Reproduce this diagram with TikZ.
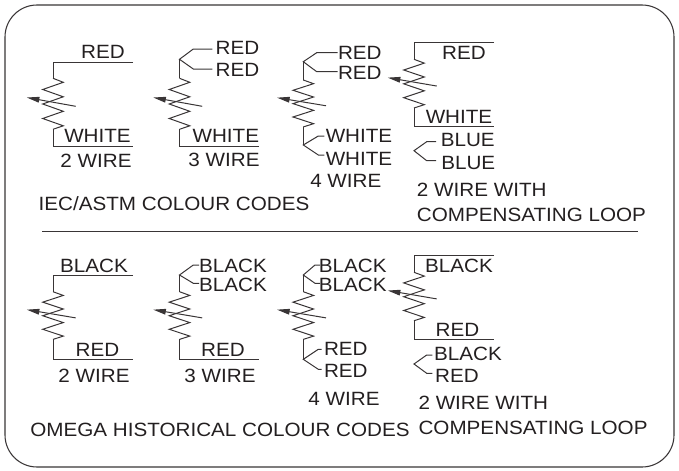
\documentclass[tikz,border=0pt]{standalone}
\usepackage{fontspec}
\setmainfont[FakeStretch=1.075]{Liberation Sans}
\usetikzlibrary{arrows.meta}
\definecolor{inkdark}{HTML}{231F20}
\tikzset{
	wire/.style = {line width=0.75pt, color=inkdark!90, line join=miter},
	lbl/.style = {anchor=base, inner sep=0pt, text=inkdark, font=\fontsize{14.4}{17}\selectfont},
	lblleft/.style = {lbl, anchor=base west}
}
% coil at (x, y of top end), third argument stretches it
\newcommand{\coil}[3]{
	\draw[wire, shift={(#1,#2)}, yscale=#3] (0,0) -- (10.3,4) -- (-10.3,11.2) -- (10.3,18.5) -- (-10.3,25.7) -- (10.3,33) -- (-10.3,40.2) -- (10.3,47.5) -- (0,51);
	\draw[wire, shift={(#1,#2)}, yscale=#3, -{Triangle[length=9.5pt,width=4.2pt]}] (22.7,28) -- (-26.3,19.2);
}
\begin{document}
\begin{tikzpicture}[x=0.75pt, y=-0.75pt]
	\useasboundingbox (0,0) rectangle (679,471);
	\draw[wire, line width=0.8pt, rounded corners=24] (5,5) rectangle (674,467);
	\draw[wire] (42,231.5) -- (638,231.5);

	% coils, top row then bottom row
	\foreach \x/\y/\s in {53/78.3/1, 179.5/78.3/1, 303.3/80/.92, 414/59.3/.955, 53/291.7/.935, 179.5/291.7/.935, 303.3/291.7/.935, 414/272.3/.95}{
		\coil{\x}{\y}{\s}
	};

	% leads, IEC/ASTM
	\draw[wire] (133,62) -- (53,62) -- (53,78.3);
	\draw[wire] (53,129.3) -- (53,146) -- (133,146);
	\draw[wire] (212.3,49) -- (193.3,49) -- (179.5,59.3) -- (193.3,69) -- (212.3,69);
	\draw[wire] (179.5,59.3) -- (179.5,78.3);
	\draw[wire] (179.5,129.3) -- (179.5,146) -- (258.7,146);
	\draw[wire] (337.7,52.7) -- (316.7,52.7) -- (303.3,61.7) -- (316.7,71.7) -- (337.7,71.7);
	\draw[wire] (303.3,61.7) -- (303.3,80);
	\draw[wire] (324.3,136) -- (318.3,136) -- (303.3,145) -- (318.3,155) -- (324.3,155);
	\draw[wire] (303.3,126.9) -- (303.3,145);
	\draw[wire] (494,42) -- (414,42) -- (414,59.3);
	\draw[wire] (414,108) -- (414,126) -- (494,126);
	\draw[wire] (436,141.7) -- (426.7,141.7) -- (414,150.7) -- (426.7,160.7) -- (436,160.7);

	% leads, OMEGA
	\draw[wire] (133,275) -- (53,275) -- (53,291.7);
	\draw[wire] (53,339.4) -- (53,359) -- (133,359);
	\draw[wire] (199,265) -- (193.3,265) -- (179.5,275) -- (193.3,283.3) -- (199,283.3);
	\draw[wire] (179.5,275) -- (179.5,291.7);
	\draw[wire] (179.5,339.4) -- (179.5,359) -- (258.7,359);
	\draw[wire] (320,265) -- (315,265) -- (303.3,275) -- (315,283.3) -- (320,283.3);
	\draw[wire] (303.3,275) -- (303.3,291.7);
	\draw[wire] (321.7,349.3) -- (318.3,349.3) -- (303.3,359.3) -- (318.3,369.3) -- (321.7,369.3);
	\draw[wire] (303.3,339.4) -- (303.3,359.3);
	\draw[wire] (494,255.7) -- (414,255.7) -- (414,272.3);
	\draw[wire] (414,320.7) -- (414,339.3) -- (494,339.3);
	\draw[wire] (432.3,355) -- (426.7,355) -- (414,364) -- (426.7,373.3) -- (432.3,373.3);

	% labels, IEC/ASTM
	\node[lbl] (redA) at (103,58) {RED};
	\node[lbl] (whiteA) at (97.5,142.7) {WHITE};
	\node[lbl] (wireA) at (96,167.7) {2 WIRE};
	\node[lbl] (redBa) at (237.5,54.3) {RED};
	\node[lbl] (redBb) at (237.5,76) {RED};
	\node[lbl] (whiteB) at (225.8,142.7) {WHITE};
	\node[lbl] (wireB) at (224,166.7) {3 WIRE};
	\node[lbl] (redCa) at (359.8,60) {RED};
	\node[lbl] (redCb) at (359.8,79) {RED};
	\node[lbl] (whiteCa) at (359,142.7) {WHITE};
	\node[lbl] (whiteCb) at (359,165.7) {WHITE};
	\node[lbl] (wireC) at (345.8,187.7) {4 WIRE};
	\node[lbl] (redD) at (464,60) {RED};
	\node[lbl] (whiteD) at (459,123.3) {WHITE};
	\node[lbl] (blueDa) at (467.8,146.7) {BLUE};
	\node[lbl] (blueDb) at (468.3,169.3) {BLUE};
	\node[lblleft] (wireD) at (416.7,196.7) {2 WIRE WITH};
	\node[lblleft] (loopD) at (416.7,221) {COMPENSATING LOOP};
	\node[lbl] (titleA) at (174,210) {IEC/ASTM COLOUR CODES};

	% labels, OMEGA
	\node[lbl] (blackE) at (94,272.3) {BLACK};
	\node[lbl] (redE) at (97.5,356.7) {RED};
	\node[lbl] (wireE) at (94,382.7) {2 WIRE};
	\node[lbl] (blackFa) at (233,272.3) {BLACK};
	\node[lbl] (blackFb) at (233,291) {BLACK};
	\node[lbl] (redF) at (223,356.7) {RED};
	\node[lbl] (wireF) at (220,382.7) {3 WIRE};
	\node[lbl] (blackGa) at (352.8,272.3) {BLACK};
	\node[lbl] (blackGb) at (352.8,291) {BLACK};
	\node[lbl] (redGa) at (345.8,355.7) {RED};
	\node[lbl] (redGb) at (345.8,377.3) {RED};
	\node[lbl] (wireG) at (344,405.7) {4 WIRE};
	\node[lbl] (blackHa) at (459,272.3) {BLACK};
	\node[lbl] (redHa) at (457.5,336) {RED};
	\node[lbl] (blackHb) at (468,360) {BLACK};
	\node[lbl] (redHb) at (457,382.3) {RED};
	\node[lblleft] (wireH) at (418.3,409.3) {2 WIRE WITH};
	\node[lblleft] (loopH) at (418.3,434.3) {COMPENSATING LOOP};
	\node[lbl] (titleB) at (220,436.7) {OMEGA HISTORICAL COLOUR CODES};
\end{tikzpicture}
\end{document}
